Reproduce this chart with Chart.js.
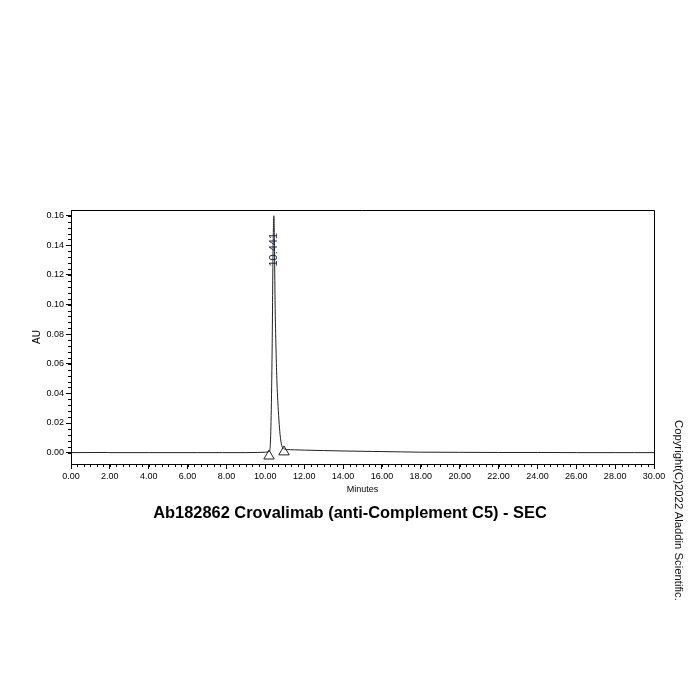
<!DOCTYPE html>
<html>
<head>
<meta charset="utf-8">
<script src="https://cdn.jsdelivr.net/npm/chart.js@4"></script>
<style>
  html, body { margin: 0; padding: 0; background: #fff; }
  #wrap { position: relative; width: 700px; height: 700px; }
  #copy { position: absolute; left: 673px; top: 420px; writing-mode: vertical-rl;
          font-family: Arial, "Liberation Sans", sans-serif; font-size: 11.3px; color: #111; white-space: nowrap; }
</style>
</head>
<body>
<div id="wrap">
  <canvas id="c" width="700" height="700"></canvas>
  <div id="copy">Copyright(C)2022 Aladdin Scientific.</div>
</div>
<script>
// ---- data ----
const times = [0, 1.9, 2.0, 4.0, 6.5, 7.8, 9.0, 9.6, 10.0, 10.2, 10.25, 10.30, 10.35, 10.40, 10.441,
               10.47, 10.50, 10.55, 10.60, 10.64, 10.70, 10.76, 10.84, 10.95, 11.1, 11.5, 12.0, 13.0,
               14.0, 15.5, 17.0, 18.0, 20.0, 22.0, 24.0, 26.0, 28.0, 29.0, 30.0];
const au    = [0.0000, 0.0001, 0.0000, 0.0000, 0.0000, 0.0000, 0.0000, 0.0001, 0.0003, 0.0008, 0.004, 0.025, 0.070, 0.140, 0.160,
               0.140, 0.103, 0.070, 0.047, 0.035, 0.022, 0.012, 0.005, 0.0028, 0.0021, 0.0019, 0.0017, 0.0014,
               0.0011, 0.0008, 0.0005, 0.0003, 0.0002, 0.0001, 0.0001, 0.0000, 0.0000, 0.0000, 0.0000];
const markerTimes = [10.19, 10.96];
const markerAU = [-0.0023, 0.0005];
const peakTimes = [10.441];
const peakAU = [0.160];
const peakLabels = ["10.441"];
const xTicks = [0, 2, 4, 6, 8, 10, 12, 14, 16, 18, 20, 22, 24, 26, 28, 30];
const yTicks = [0, 0.02, 0.04, 0.06, 0.08, 0.10, 0.12, 0.14, 0.16];
const xMinorStep = 1 / 3;
const yMinorStep = 0.004;
const chartTitle = "Ab182862 Crovalimab (anti-Complement C5) - SEC";
const xTitle = "Minutes";
const yTitle = "AU";

const FONT = "Arial, 'Liberation Sans', sans-serif";

const framePlugin = {
  id: 'frame',
  afterDraw(chart) {
    const { ctx, chartArea: a, scales } = chart;
    ctx.save();
    ctx.strokeStyle = '#000';
    ctx.lineWidth = 1;
    ctx.beginPath();
    ctx.moveTo(a.left, a.top + 0.5); ctx.lineTo(a.right + 0.5, a.top + 0.5);
    ctx.lineTo(a.right + 0.5, a.bottom);
    ctx.stroke();
    // minor ticks
    ctx.beginPath();
    const xs = scales.x, ys = scales.y;
    for (let i = 0; i * xMinorStep <= xs.max + 1e-9; i++) {
      const px = Math.round(xs.getPixelForValue(i * xMinorStep)) + 0.5;
      ctx.moveTo(px, a.bottom); ctx.lineTo(px, a.bottom + 3);
    }
    for (let i = 0; i * yMinorStep <= ys.max + 1e-9; i++) {
      const py = Math.round(ys.getPixelForValue(i * yMinorStep)) + 0.5;
      ctx.moveTo(a.left, py); ctx.lineTo(a.left - 3, py);
    }
    ctx.stroke();
    // peak labels
    ctx.fillStyle = '#1c2740';
    ctx.font = '11px ' + FONT;
    ctx.textAlign = 'center';
    ctx.textBaseline = 'middle';
    peakTimes.forEach((t, i) => {
      const px = xs.getPixelForValue(t);
      const py = ys.getPixelForValue(peakAU[i]);
      ctx.save();
      ctx.translate(px, py + 34);
      ctx.rotate(-Math.PI / 2);
      ctx.fillText(peakLabels[i], 0, 0);
      ctx.restore();
    });
    ctx.restore();
  }
};

new Chart(document.getElementById('c'), {
  type: 'line',
  data: {
    datasets: [
      {
        data: times.map((t, i) => ({ x: t, y: au[i] })),
        borderColor: '#222',
        borderWidth: 1,
        pointRadius: 0,
        fill: false,
        cubicInterpolationMode: 'monotone'
      },
      {
        data: markerTimes.map((t, i) => ({ x: t, y: markerAU[i] })),
        showLine: false,
        pointStyle: 'triangle',
        pointRadius: 6,
        pointBackgroundColor: '#fff',
        pointBorderColor: '#222',
        pointBorderWidth: 1
      }
    ]
  },
  options: {
    responsive: false,
    animation: false,
    layout: { padding: { left: 0, right: 0, top: 210, bottom: 176.3 } },
    plugins: {
      legend: { display: false },
      tooltip: { enabled: false },
      title: {
        display: true,
        position: 'bottom',
        text: chartTitle,
        color: '#000',
        font: { family: FONT, size: 16.4, weight: 'bold' },
        padding: { top: 5, bottom: 0 }
      }
    },
    scales: {
      x: {
        type: 'linear',
        min: 0, max: 30,
        afterBuildTicks: s => { s.ticks = xTicks.map(v => ({ value: v })); },
        afterFit: s => { s.height = 35; },
        grid: { drawOnChartArea: false, tickLength: 5, tickColor: '#000' },
        border: { color: '#000', width: 1 },
        ticks: {
          color: '#000', font: { family: FONT, size: 9 }, padding: 2, maxRotation: 0,
          callback: v => Number(v).toFixed(2)
        },
        title: { display: true, text: xTitle, color: '#000', font: { family: FONT, size: 9 }, padding: { top: 0, bottom: 4 } }
      },
      y: {
        type: 'linear',
        min: -0.0077, max: 0.1639,
        afterBuildTicks: s => { s.ticks = yTicks.map(v => ({ value: v })); },
        afterFit: s => { s.width = 71; },
        grid: { drawOnChartArea: false, tickLength: 5, tickColor: '#000' },
        border: { color: '#000', width: 1 },
        ticks: {
          color: '#000', font: { family: FONT, size: 9 }, padding: 2,
          callback: v => Number(v).toFixed(2)
        },
        title: { display: true, text: yTitle, color: '#000', font: { family: FONT, size: 10 }, padding: { top: 31, bottom: 0 } }
      },
      yRightSpace: {
        type: 'linear',
        position: 'right',
        display: true,
        afterFit: s => { s.width = 46; },
        grid: { display: false, drawOnChartArea: false },
        border: { display: false },
        ticks: { display: false }
      }
    }
  },
  plugins: [framePlugin]
});
</script>
</body>
</html>
